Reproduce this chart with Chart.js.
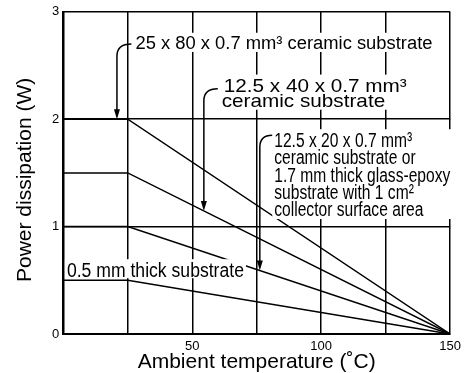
<!DOCTYPE html>
<html>
<head>
<meta charset="utf-8">
<script src="https://cdn.jsdelivr.net/npm/chart.js@4.4.0/dist/chart.umd.min.js"></script>
<style>
  body { margin: 0; background: #fff; }
  #wrap { width: 466px; height: 373px; }
</style>
</head>
<body>
<div id="wrap"><canvas id="c"></canvas></div>
<script>
// ambient temperature break points (deg C)
const temps = [0, 25, 150];
// power dissipation (W) for each substrate
const p25x80 = [2.0, 2.0, 0];
const p12x40 = [1.5, 1.5, 0];
const p12x20 = [1.0, 1.0, 0];
const pThin = [0.5, 0.5, 0];
const yTicks = [0, 1, 2, 3];
const xTickLabels = [50, 100, 150];

const FONT = '"Liberation Sans", Arial, sans-serif';
const Y_TITLE = 'Power dissipation (W)';

// text notes, anchored in data units (temperature, watts)
const notes = [
  { lines: ['25 x 80 x 0.7 mm³ ceramic substrate'], t: 28, p: 2.654, size: 18, sx: 1.02, lh: 0 },
  { lines: ['12.5 x 40 x 0.7 mm³', 'ceramic substrate'], dx: [0, -2], t: 62.2, p: 2.256, size: 19, sx: 1.09, lh: 15 },
  { lines: ['12.5 x 20 x 0.7 mm³', 'ceramic substrate or', '1.7 mm thick glass-epoxy',
            'substrate with 1 cm²', 'collector surface area'], t: 81.8, p: 1.739, size: 20, sx: 0.78, lh: 17.2 },
  { lines: ['0.5 mm thick substrate'], t: 1.4, p: 0.529, size: 20, sx: 0.88, lh: 0, padB: 1 }
];

// hooked arrows: start point, temperature of the vertical drop, and the curve it points at
const arrows = [
  { from: [26.4, 2.70], at: 20.8, series: p25x80 },
  { from: [59.9, 2.284], at: 54.5, series: p12x40 },
  { from: [81.0, 1.85], at: 76.2, series: p12x20 }
];

function valueAt(series, t) {
  for (let i = 1; i < temps.length; i++) {
    if (t <= temps[i]) {
      const f = (t - temps[i - 1]) / (temps[i] - temps[i - 1]);
      return series[i - 1] + f * (series[i] - series[i - 1]);
    }
  }
  return series[series.length - 1];
}

function toPoints(series) {
  return temps.map((t, i) => ({ x: t, y: series[i] }));
}

function lineSet(series) {
  return {
    data: toPoints(series),
    borderColor: '#000',
    borderWidth: 1.5,
    pointRadius: 0,
    tension: 0,
    fill: false
  };
}

const notesPlugin = {
  id: 'notes',
  afterDraw(chart) {
    const { ctx, chartArea } = chart;
    const xs = chart.scales.x, ys = chart.scales.y;
    ctx.save();
    ctx.textBaseline = 'alphabetic';
    ctx.textAlign = 'left';

    // y axis title, a little below the middle as in the original
    ctx.save();
    ctx.translate(31, (chartArea.top + chartArea.bottom) / 2 + 7);
    ctx.rotate(-Math.PI / 2);
    ctx.font = '21px ' + FONT;
    ctx.fillStyle = '#000';
    ctx.textAlign = 'center';
    ctx.fillText(Y_TITLE, 0, 0);
    ctx.restore();

    notes.forEach(n => {
      const x0 = xs.getPixelForValue(n.t);
      const y0 = ys.getPixelForValue(n.p);
      ctx.font = n.size + 'px ' + FONT;
      let w = 0;
      n.lines.forEach((s, i) => {
        const dx = n.dx ? n.dx[i] : 0;
        w = Math.max(w, dx + ctx.measureText(s).width * n.sx);
      });
      const minDx = n.dx ? Math.min(...n.dx) : 0;
      const top = y0 - n.size * 0.9;
      const bottom = y0 + (n.lines.length - 1) * n.lh + (n.padB !== undefined ? n.padB : 3);
      ctx.fillStyle = '#fff';
      ctx.fillRect(x0 + minDx - 2, top, w - minDx + 4, bottom - top);

      ctx.fillStyle = '#000';
      n.lines.forEach((s, i) => {
        const dx = n.dx ? n.dx[i] : 0;
        ctx.save();
        ctx.translate(x0 + dx, y0 + i * n.lh);
        ctx.scale(n.sx, 1);
        ctx.fillText(s, 0, 0);
        ctx.restore();
      });
    });

    ctx.strokeStyle = '#000';
    ctx.fillStyle = '#000';
    ctx.lineWidth = 1.5;
    arrows.forEach(a => {
      const sx = xs.getPixelForValue(a.from[0]);
      const sy = ys.getPixelForValue(a.from[1]);
      const vx = xs.getPixelForValue(a.at);
      const tip = ys.getPixelForValue(valueAt(a.series, a.at));
      const r = 12, head = 10;
      ctx.beginPath();
      ctx.moveTo(sx, sy);
      ctx.quadraticCurveTo(vx, sy, vx, sy + r);
      ctx.lineTo(vx, tip - head + 1);
      ctx.stroke();
      ctx.beginPath();
      ctx.moveTo(vx, tip);
      ctx.lineTo(vx - 3, tip - head);
      ctx.lineTo(vx + 3, tip - head);
      ctx.closePath();
      ctx.fill();
    });
    ctx.restore();
  }
};

new Chart(document.getElementById('c'), {
  type: 'line',
  data: {
    datasets: [lineSet(p25x80), lineSet(p12x40), lineSet(p12x20), lineSet(pThin)]
  },
  options: {
    animation: false,
    responsive: true,
    maintainAspectRatio: false,
    devicePixelRatio: 1,
    layout: { padding: { top: 9.5, right: 13, left: 0, bottom: 0 } },
    plugins: { legend: { display: false }, tooltip: { enabled: false } },
    scales: {
      x: {
        type: 'linear',
        min: 0,
        max: 150,
        afterFit: s => { s.height = 39; },
        ticks: {
          stepSize: 25,
          autoSkip: false,
          maxRotation: 0,
          padding: 5,
          color: '#000',
          font: { family: FONT, size: 13 },
          callback: v => xTickLabels.includes(v) ? String(v) : ''
        },
        grid: { color: '#000', lineWidth: 1.5, drawTicks: false },
        border: { color: '#000', width: 2 },
        title: {
          display: true,
          text: 'Ambient temperature (˚C)',
          color: '#000',
          font: { family: FONT, size: 21, lineHeight: 1 },
          padding: { top: 0, bottom: 0 }
        }
      },
      y: {
        min: 0,
        max: 3,
        afterFit: s => { s.width = 63.3; },
        afterBuildTicks: s => { s.ticks = yTicks.map(v => ({ value: v })); },
        ticks: {
          padding: 4,
          color: '#000',
          font: { family: FONT, size: 13 }
        },
        grid: { color: '#000', lineWidth: 1.5, drawTicks: false },
        border: { color: '#000', width: 2 }
      }
    }
  },
  plugins: [notesPlugin]
});
</script>
</body>
</html>
